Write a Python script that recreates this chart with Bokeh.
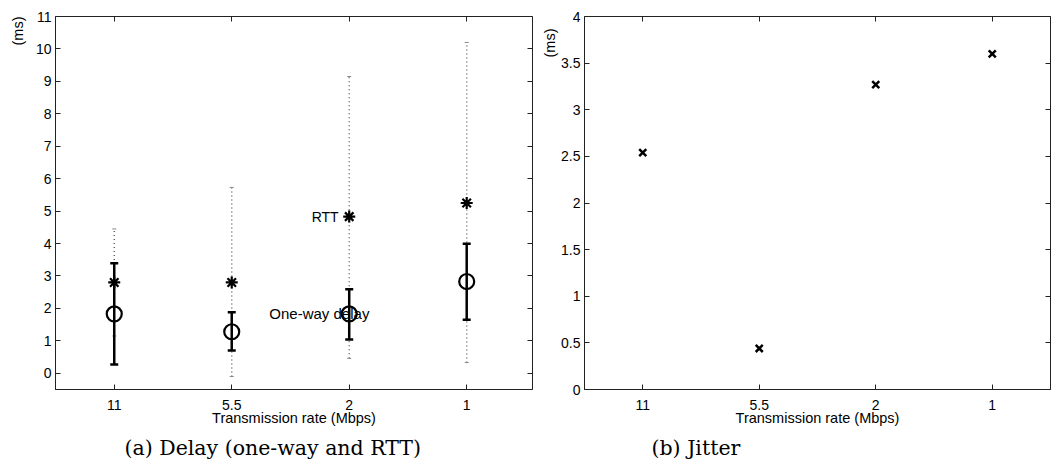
from bokeh.plotting import figure
from bokeh.layouts import row
from bokeh.models import Range1d, FixedTicker, LinearAxis, Label, ColumnDataSource, Title
from bokeh.embed import file_html
from bokeh.resources import INLINE

# ---- data ----
rates = ["11", "5.5", "2", "1"]
rtt_mean = [2.80, 2.80, 4.83, 5.25]
rtt_low = [1.15, -0.10, 0.46, 0.33]
rtt_high = [4.45, 5.73, 9.15, 10.20]
oneway_mean = [1.83, 1.28, 1.83, 2.83]
oneway_low = [0.27, 0.70, 1.04, 1.65]
oneway_high = [3.39, 1.88, 2.59, 3.99]
jitter = [2.54, 0.44, 3.27, 3.60]
delay_yticks = list(range(0, 12))
jitter_yticks = [0, 0.5, 1, 1.5, 2, 2.5, 3, 3.5, 4]

xs = [i + 1 for i in range(len(rates))]
SANS = "Liberation Sans"
SERIF = "DejaVu Serif"
FS = "14px"
AX = "#222222"


def mirror_axis(ticks):
    return LinearAxis(ticker=FixedTicker(ticks=ticks),
                      major_label_overrides={t: "" for t in ticks},
                      major_label_text_font_size="1px",
                      major_tick_in=5, major_tick_out=0, minor_tick_line_color=None,
                      axis_line_color=None, major_label_standoff=0,
                      major_tick_line_color=AX)


def style(p, yticks, ylabels=None):
    p.grid.visible = False
    p.outline_line_color = AX
    p.outline_line_width = 1
    p.xaxis.ticker = FixedTicker(ticks=xs)
    p.xaxis.major_label_overrides = {x: r for x, r in zip(xs, rates)}
    p.yaxis.ticker = FixedTicker(ticks=yticks)
    if ylabels:
        p.yaxis.major_label_overrides = ylabels
    for ax in p.axis:
        ax.axis_line_color = AX
        ax.major_tick_in = 5
        ax.major_tick_out = 0
        ax.minor_tick_line_color = None
        ax.major_tick_line_color = AX
        ax.major_label_text_font = SANS
        ax.major_label_text_font_size = FS
        ax.major_label_text_color = "black"
        ax.major_label_standoff = 4
    p.xaxis.major_label_standoff = 10
    p.xaxis.axis_label = "Transmission rate (Mbps)"
    p.xaxis.axis_label_text_font = SANS
    p.xaxis.axis_label_text_font_style = "normal"
    p.xaxis.axis_label_text_font_size = "14.5px"
    p.xaxis.axis_label_text_color = "black"
    p.xaxis.axis_label_standoff = -3
    p.add_layout(mirror_axis(xs), "above")
    p.add_layout(mirror_axis(yticks), "right")


def ms_title(p, standoff, offset):
    p.add_layout(Title(text="(ms)", align="right", offset=offset, standoff=standoff,
                       text_font=SANS, text_font_size="14.5px", text_font_style="normal",
                       text_color="black"), "left")


def caption(p, text, offset, standoff):
    p.add_layout(Title(text=text, align="left", offset=offset, standoff=standoff,
                       text_font=SERIF, text_font_size="20.5px", text_font_style="normal",
                       text_color="black"), "below")


# ---- (a) delay ----
p1 = figure(width=538, height=466, x_range=Range1d(0.5, 4.56), y_range=Range1d(-0.5, 11),
            output_backend="svg", toolbar_location=None,
            min_border_left=54, min_border_right=6, min_border_top=16, min_border_bottom=74)
style(p1, delay_yticks)

src = ColumnDataSource(dict(x=xs, rtt=rtt_mean, rlo=rtt_low, rhi=rtt_high,
                            ow=oneway_mean, olo=oneway_low, ohi=oneway_high))
p1.segment(x0="x", y0="rlo", x1="x", y1="rhi", source=src, line_color="#666666",
           line_width=1.5, line_dash="1 3")
p1.scatter(x="x", y="rlo", source=src, marker="dash", size=4, line_color="#888888", line_width=1)
p1.scatter(x="x", y="rhi", source=src, marker="dash", size=4, line_color="#888888", line_width=1)
p1.segment(x0="x", y0="olo", x1="x", y1="ohi", source=src, line_color="black", line_width=2.5)
p1.scatter(x="x", y="olo", source=src, marker="dash", size=8, line_color="black", line_width=2.5)
p1.scatter(x="x", y="ohi", source=src, marker="dash", size=8, line_color="black", line_width=2.5)
p1.scatter(x="x", y="ow", source=src, marker="circle", size=15, fill_color=None,
           line_color="black", line_width=2.2)
p1.scatter(x="x", y="rtt", source=src, marker="asterisk", size=12, line_color="black",
           line_width=2.2)

p1.add_layout(Label(x=xs[2] - 0.09, y=rtt_mean[2], text="RTT", text_align="right",
                    text_baseline="middle", text_font=SANS, text_font_size="14px",
                    text_color="black"))
p1.add_layout(Label(x=xs[1] + 0.32, y=oneway_mean[2] + 0.02, text="One-way delay",
                    text_align="left", text_baseline="middle", text_font=SANS,
                    text_font_size="15px", text_color="black"))
ms_title(p1, standoff=14, offset=0)
caption(p1, "(a)  Delay (one-way and RTT)", 69, 11)

# ---- (b) jitter ----
p2 = figure(width=523, height=466, x_range=Range1d(0.5, 4.5), y_range=Range1d(0, 4),
            output_backend="svg", toolbar_location=None,
            min_border_left=43, min_border_right=11, min_border_top=14, min_border_bottom=77)
style(p2, jitter_yticks, {0: "0", 0.5: "0.5", 1: "1", 1.5: "1.5", 2: "2", 2.5: "2.5",
                          3: "3", 3.5: "3.5", 4: "4"})
p2.scatter(x=xs, y=jitter, marker="x", size=10, line_color="black", line_width=2.5)
ms_title(p2, standoff=2, offset=12)
caption(p2, "(b)  Jitter", 67, 11)

layout = row(p1, p2)
open("out.html", "w").write(file_html(layout, INLINE))
